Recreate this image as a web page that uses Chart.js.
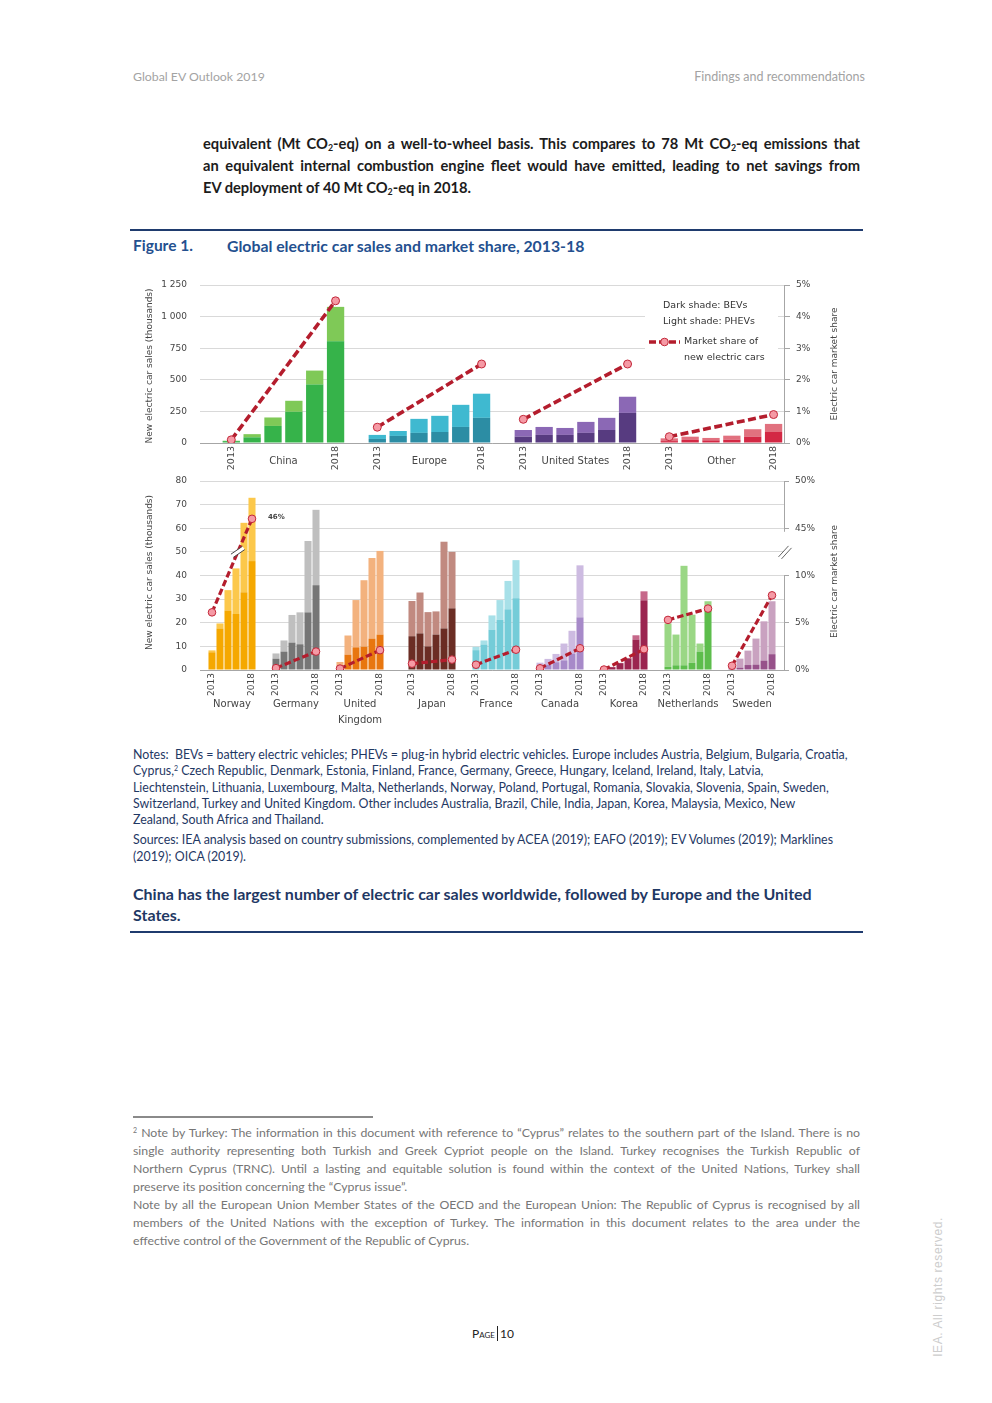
<!DOCTYPE html>
<html><head><meta charset="utf-8">
<script src="https://cdn.jsdelivr.net/npm/chart.js@4.4.1/dist/chart.umd.min.js"></script>
<style>
html,body{margin:0;padding:0;background:#fff;}
body{width:992px;height:1403px;position:relative;overflow:hidden;font-family:Lato,"Open Sans",sans-serif;}
.t{position:absolute;white-space:nowrap;}
.blk{position:absolute;}
.j{text-align:justify;text-align-last:justify;}
.nw{white-space:nowrap;}
.rule{position:absolute;background:#1f3b6e;}
sub{font-size:0.6em;vertical-align:baseline;position:relative;top:0.25em;line-height:0;}
.sup{font-size:7px;position:relative;top:-4px;line-height:0;}
</style></head>
<body>
<div class="t" style="left:133px;top:69px;font-size:12.3px;color:#a3a3a3;">Global EV Outlook 2019</div>
<div class="t" style="right:127px;top:69px;font-size:12.5px;color:#a3a3a3;">Findings and recommendations</div>

<div class="blk" style="left:203px;top:132px;width:657px;font-size:14.7px;line-height:22px;font-weight:700;color:#1c1c1c;">
<div class="j">equivalent (Mt CO<sub>2</sub>-eq) on a well-to-wheel basis. This compares to 78 Mt CO<sub>2</sub>-eq emissions that</div>
<div class="j">an equivalent internal combustion engine fleet would have emitted, leading to net savings from</div>
<div class="nw">EV deployment of 40 Mt CO<sub>2</sub>-eq in 2018.</div>
</div>

<div class="rule" style="left:130px;top:229px;width:733px;height:2px;"></div>
<div class="t" style="left:133px;top:236px;font-size:15.5px;font-weight:700;color:#24508f;">Figure 1.</div>
<div class="t" style="left:227px;top:236px;font-size:15.8px;font-weight:700;color:#24508f;">Global electric car sales and market share, 2013-18</div>

<div class="blk" style="left:130px;top:275px;width:730px;height:200px;"><canvas id="cTop" width="730" height="200"></canvas></div>
<div class="blk" style="left:130px;top:470px;width:730px;height:262px;"><canvas id="cBot" width="730" height="262"></canvas></div>

<div class="blk" style="left:133px;top:747px;width:740px;font-size:12.4px;line-height:16.3px;color:#1f3864;">
<div class="nw">Notes:&nbsp; BEVs = battery electric vehicles; PHEVs = plug-in hybrid electric vehicles. Europe includes Austria, Belgium, Bulgaria, Croatia,</div>
<div class="nw">Cyprus,<span class="sup">2</span> Czech Republic, Denmark, Estonia, Finland, France, Germany, Greece, Hungary, Iceland, Ireland, Italy, Latvia,</div>
<div class="nw">Liechtenstein, Lithuania, Luxembourg, Malta, Netherlands, Norway, Poland, Portugal, Romania, Slovakia, Slovenia, Spain, Sweden,</div>
<div class="nw">Switzerland, Turkey and United Kingdom. Other includes Australia, Brazil, Chile, India, Japan, Korea, Malaysia, Mexico, New</div>
<div class="nw">Zealand, South Africa and Thailand.</div>
<div class="nw" style="margin-top:4px;">Sources: IEA analysis based on country submissions, complemented by ACEA (2019); EAFO (2019); EV Volumes (2019); Marklines</div>
<div class="nw">(2019); OICA (2019).</div>
</div>

<div class="blk" style="left:133px;top:883px;width:740px;font-size:16px;line-height:21px;font-weight:700;color:#1f3864;">
<div class="nw">China has the largest number of electric car sales worldwide, followed by Europe and the United</div>
<div class="nw">States.</div>
</div>
<div class="rule" style="left:130px;top:931px;width:733px;height:2px;"></div>

<div class="rule" style="left:133px;top:1116px;width:240px;height:1.5px;background:#8a8a8a;"></div>
<div class="blk" style="left:133px;top:1124px;width:727px;font-size:12.3px;line-height:18px;color:#767676;">
<div class="j"><span class="sup">2</span> Note by Turkey: The information in this document with reference to “Cyprus” relates to the southern part of the Island. There is no</div>
<div class="j">single authority representing both Turkish and Greek Cypriot people on the Island. Turkey recognises the Turkish Republic of</div>
<div class="j">Northern Cyprus (TRNC). Until a lasting and equitable solution is found within the context of the United Nations, Turkey shall</div>
<div class="nw">preserve its position concerning the “Cyprus issue”.</div>
<div class="j">Note by all the European Union Member States of the OECD and the European Union: The Republic of Cyprus is recognised by all</div>
<div class="j">members of the United Nations with the exception of Turkey. The information in this document relates to the area under the</div>
<div class="nw">effective control of the Government of the Republic of Cyprus.</div>
</div>

<div class="t" style="left:472px;top:1326px;font-size:12px;color:#222;"><span style="font-variant:small-caps;">Page</span><span style="border-left:1.5px solid #222;padding-left:2px;margin-left:2px;">10</span></div>
<div class="t" style="left:938px;top:1287px;transform:translate(-50%,-50%) rotate(-90deg);font-family:'Liberation Sans',Arial,sans-serif;font-size:12px;color:#cdcdcd;letter-spacing:0.6px;">IEA. All rights reserved.</div>

<script>
// ---------------- DATA ----------------
const years = ['2013','2014','2015','2016','2017','2018'];

// Top panel (thousands)
const topGroups = ['China','Europe','United States','Other'];
const chinaBEV  = [15, 45, 135, 247, 462, 804];
const chinaPHEV = [3, 25, 67, 87, 111, 273];
const europeBEV  = [32, 56, 80, 87, 127, 199];
const europePHEV = [32, 39, 111, 128, 175, 191];
const usBEV  = [50, 64, 64, 80, 103, 238];
const usPHEV = [53, 63, 55, 87, 96, 128];
const otherBEV  = [15, 24, 21, 26, 50, 87];
const otherPHEV = [22, 26, 19, 32, 59, 64];
// market share (%) 2013 and 2018
const chinaShare  = [0.1, 4.5];
const europeShare = [0.5, 2.5];
const usShare     = [0.75, 2.5];
const otherShare  = [0.2, 0.9];
const topLeftTicks = [0, 250, 500, 750, 1000, 1250];
const topRightTicks = ['0%','1%','2%','3%','4%','5%'];

// Bottom panel (thousands)
const botGroups = ['Norway','Germany','United|Kingdom','Japan','France','Canada','Korea','Netherlands','Sweden'];
const norwayBEV  = [7.5, 17.6, 25.2, 23.7, 32.9, 46.1];
const norwayPHEV = [0.8, 2.1, 8.6, 19.3, 29.4, 26.8];
const germanyBEV  = [4.8, 7.8, 11.6, 10.9, 24.4, 35.9];
const germanyPHEV = [2.2, 4.7, 11.7, 13.5, 30.2, 31.9];
const ukBEV  = [1.6, 6.5, 9.6, 9.9, 13.3, 15.0];
const ukPHEV = [1.8, 8.1, 20.0, 28.1, 34.1, 35.4];
const japanBEV  = [14.3, 15.5, 10.0, 15.0, 17.6, 26.1];
const japanPHEV = [14.9, 17.3, 14.5, 9.8, 36.7, 23.9];
const franceBEV  = [8.4, 10.8, 17.1, 21.3, 25.7, 30.4];
const francePHEV = [1.4, 1.7, 6.0, 8.3, 12.0, 16.1];
const canadaBEV  = [1.4, 2.3, 3.3, 4.1, 7.0, 22.3];
const canadaPHEV = [1.7, 2.4, 3.5, 7.1, 9.6, 22.0];
const koreaBEV  = [0.6, 1.2, 2.9, 4.9, 12.9, 29.5];
const koreaPHEV = [0.1, 0.1, 0.1, 0.2, 1.8, 3.8];
const netherlandsBEV  = [1.4, 2.0, 2.0, 3.1, 7.8, 25.6];
const netherlandsPHEV = [18.3, 13.0, 42.1, 20.3, 3.4, 3.5];
const swedenBEV  = [0.4, 1.0, 2.1, 2.3, 4.0, 6.7];
const swedenPHEV = [1.1, 3.8, 6.1, 11.0, 16.6, 22.4];
const norwayShare = [6.1, 46];
const germanyShare = [0.2, 1.95];
const ukShare = [0.15, 2.1];
const japanShare = [0.67, 1.1];
const franceShare = [0.56, 2.15];
const canadaShare = [0.18, 2.3];
const koreaShare = [0.05, 2.2];
const netherlandsShare = [5.3, 6.5];
const swedenShare = [0.45, 7.9];
const botLeftTicks = [0,10,20,30,40,50,60,70,80];
const botRightTickValues = [0, 5, 10, 45, 50];
const botRightTickLabels = ['0%','5%','10%','45%','50%'];

// ---------------- STYLE / LAYOUT ----------------
const topDark  = ['#36b34a','#2c8da4','#573b80','#d32844'];
const topLight = ['#7fc957','#3fb9d0','#8b68b5','#e1717f'];
const botDark  = ['#f5a800','#767676','#e8760f','#6b2d24','#74ccd8','#a78ac9','#9b2550','#5dbd4c','#97518a'];
const botLight = ['#fcc84b','#bfbfbf','#f3b27e','#c18a80','#a7e0e8','#cdbbe1','#c6688a','#9ad785','#c9a2c0'];
const lineColor = '#b41d2d', pointFill = '#f59aa5', pointEdge = '#c2283a';
const axisGrey = '#a6a6a6', gridGrey = '#d9d9d9', txt = '#454545';
const FONT = "'DejaVu Sans', Verdana, sans-serif";
Chart.defaults.font.family = FONT;
Chart.defaults.font.size = 9;
Chart.defaults.color = txt;

function buildSlots(nGroups, gapsBefore, trailing){
  const labels = [], starts = [];
  for(let g=0; g<nGroups; g++){
    for(let k=0;k<gapsBefore[g];k++) labels.push('');
    starts.push(labels.length);
    years.forEach((y,i)=>labels.push(i===0||i===5 ? y : ''));
  }
  for(let k=0;k<trailing;k++) labels.push('');
  return {labels, starts};
}

function buildDatasets(slots, bev, phev, share, dark, light, shareMap, lw, dash, pr){
  const n = slots.labels.length;
  const b = Array(n).fill(null), p = Array(n).fill(null);
  const bc = Array(n).fill('rgba(0,0,0,0)'), pc = Array(n).fill('rgba(0,0,0,0)');
  slots.starts.forEach((s,g)=>{
    for(let j=0;j<6;j++){ b[s+j]=bev[g][j]; p[s+j]=phev[g][j]; bc[s+j]=dark[g]; pc[s+j]=light[g]; }
  });
  const ds = [
    {type:'bar', data:b, backgroundColor:bc, yAxisID:'y', stack:'s', order:2},
    {type:'bar', data:p, backgroundColor:pc, yAxisID:'y', stack:'s', order:2}
  ];
  slots.starts.forEach((s,g)=>{
    const d = Array(n).fill(null);
    d[s] = shareMap(share[g][0]); d[s+5] = shareMap(share[g][1]);
    ds.push({type:'line', data:d, yAxisID:'y2', spanGaps:true, order:0,
      borderColor:lineColor, borderWidth:lw, borderDash:dash, borderCapStyle:'butt',
      pointRadius:pr, pointBackgroundColor:pointFill, pointBorderColor:pointEdge, pointBorderWidth:1, fill:false});
  });
  return ds;
}

function drawVText(ctx, text, x, y, font, color){
  ctx.save(); ctx.translate(x,y); ctx.rotate(-Math.PI/2);
  ctx.font = font; ctx.fillStyle = color; ctx.textAlign='center'; ctx.textBaseline='middle';
  ctx.fillText(text,0,0); ctx.restore();
}

function groupLabelPlugin(groups, slots, yPos, lineH){
  return {id:'groupLabels', afterDraw(chart){
    const ctx = chart.ctx, xs = chart.scales.x;
    ctx.save(); ctx.font = '10px '+FONT; ctx.fillStyle = txt; ctx.textAlign='center'; ctx.textBaseline='middle';
    groups.forEach((g,i)=>{
      const cx = (xs.getPixelForValue(slots.starts[i]) + xs.getPixelForValue(slots.starts[i]+5))/2;
      g.split('|').forEach((line,k)=>ctx.fillText(line, cx, yPos + k*lineH));
    });
    ctx.restore();
  }};
}

const thousands = v => String(v).replace(/\B(?=(\d{3})+(?!\d))/g,' ');
function fixV(w){ return function(s){ s.width = w; s.paddingTop = 0; s.paddingBottom = 0; }; }
function fixH(h){ return function(s){ s.height = h; s.paddingLeft = 0; s.paddingRight = 0; }; }

// ---------------- TOP CHART ----------------
const topSlots = buildSlots(4, [1,1,1,1], 0);
const topDatasets = buildDatasets(topSlots,
  [chinaBEV, europeBEV, usBEV, otherBEV],
  [chinaPHEV, europePHEV, usPHEV, otherPHEV],
  [chinaShare, europeShare, usShare, otherShare],
  topDark, topLight, v=>v, 3.6, [8,3.5], 4);

const topExtras = {id:'topExtras', afterDraw(chart){
  const ctx = chart.ctx, ca = chart.chartArea;
  const cy = (ca.top+ca.bottom)/2;
  drawVText(ctx, 'New electric car sales (thousands)', 20, cy+2, '9px '+FONT, txt);
  drawVText(ctx, 'Electric car market share', 705, cy, '9px '+FONT, txt);
  // legend box
  ctx.save();
  ctx.fillStyle = '#fff'; ctx.fillRect(515, 20, 133, 73);
  ctx.font = '9.5px '+FONT; ctx.fillStyle = '#333'; ctx.textBaseline='middle'; ctx.textAlign='left';
  ctx.fillText('Dark shade: BEVs', 533, 31);
  ctx.fillText('Light shade: PHEVs', 533, 47);
  ctx.fillText('Market share of', 554, 67);
  ctx.fillText('new electric cars', 554, 83);
  ctx.strokeStyle = lineColor; ctx.lineWidth = 3.6; ctx.setLineDash([7,3]);
  ctx.beginPath(); ctx.moveTo(519,67); ctx.lineTo(550,67); ctx.stroke();
  ctx.setLineDash([]);
  ctx.beginPath(); ctx.arc(534.5,67,3.8,0,Math.PI*2); ctx.fillStyle=pointFill; ctx.fill();
  ctx.lineWidth=1; ctx.strokeStyle=pointEdge; ctx.stroke();
  ctx.restore();
}};

new Chart(document.getElementById('cTop'), {
  data:{labels: topSlots.labels, datasets: topDatasets},
  options:{
    responsive:false, animation:false, events:[],
    layout:{padding:{top:10,left:0,right:0,bottom:0}},
    plugins:{legend:{display:false}, tooltip:{enabled:false}},
    datasets:{bar:{barPercentage:0.83, categoryPercentage:1}},
    scales:{
      x:{stacked:true, grid:{display:false, drawTicks:false}, border:{color:axisGrey,width:1},
         ticks:{autoSkip:false, minRotation:90, maxRotation:90, padding:3, font:{size:9.5}},
         afterFit: fixH(32)},
      y:{stacked:true, min:0, max:1250, afterBuildTicks(s){ s.ticks = topLeftTicks.map(v=>({value:v})); },
         ticks:{padding:13, callback:v=>thousands(v)}, grid:{color:gridGrey, drawTicks:false, lineWidth:1},
         border:{display:false}, afterFit: fixV(70)},
      y2:{position:'right', stacked:false, min:0, max:5,
         afterBuildTicks(s){ s.ticks = topRightTicks.map((t,i)=>({value:i})); },
         ticks:{padding:6, callback:(v)=>topRightTicks[v]},
         grid:{drawOnChartArea:false, tickLength:6, color:axisGrey},
         border:{color:axisGrey,width:1}, afterFit: fixV(76)}
    }
  },
  plugins:[topExtras, groupLabelPlugin(topGroups, topSlots, 186, 16)]
});

// ---------------- BOTTOM CHART ----------------
// broken right axis: 0-10% mapped to 0-40, 45-50% mapped to 60-80 on the left scale
const shareToAxis = s => s <= 10 ? s*4 : 60 + (s-45)*4;
const botSlots = buildSlots(9, [1,2,2,3,2,2,2,2,2], 1);
const botDatasets = buildDatasets(botSlots,
  [norwayBEV, germanyBEV, ukBEV, japanBEV, franceBEV, canadaBEV, koreaBEV, netherlandsBEV, swedenBEV],
  [norwayPHEV, germanyPHEV, ukPHEV, japanPHEV, francePHEV, canadaPHEV, koreaPHEV, netherlandsPHEV, swedenPHEV],
  [norwayShare, germanyShare, ukShare, japanShare, franceShare, canadaShare, koreaShare, netherlandsShare, swedenShare],
  botDark, botLight, shareToAxis, 3.2, [6.5,3], 3.8);

const botExtras = {id:'botExtras', afterDraw(chart){
  const ctx = chart.ctx, ca = chart.chartArea, y2 = chart.scales.y2;
  const cy = (ca.top+ca.bottom)/2;
  drawVText(ctx, 'New electric car sales (thousands)', 20, cy-3, '9px '+FONT, txt);
  drawVText(ctx, 'Electric car market share', 705, cy+6, '9px '+FONT, txt);
  // broken right axis line
  ctx.save();
  ctx.strokeStyle = axisGrey; ctx.lineWidth = 1;
  const xr = Math.round(ca.right)+0.5;
  ctx.beginPath();
  ctx.moveTo(xr, y2.getPixelForValue(0)); ctx.lineTo(xr, y2.getPixelForValue(40));
  ctx.moveTo(xr, y2.getPixelForValue(58.5)); ctx.lineTo(xr, y2.getPixelForValue(80));
  ctx.stroke();
  const by = y2.getPixelForValue(50);
  ctx.strokeStyle = '#555'; ctx.lineWidth = 0.9;
  ctx.beginPath();
  ctx.moveTo(xr-6, by+5); ctx.lineTo(xr+4, by-6);
  ctx.moveTo(xr-3, by+7); ctx.lineTo(xr+7, by-4);
  ctx.stroke();
  // Norway line break + label
  const meta = chart.getDatasetMeta(2);
  const p1 = meta.data[botSlots.starts[0]], p2 = meta.data[botSlots.starts[0]+5];
  const t = (by - p1.y)/(p2.y - p1.y);
  const bx = p1.x + t*(p2.x - p1.x);
  ctx.translate(bx, by);
  ctx.rotate(-0.6);
  ctx.fillStyle = '#fff'; ctx.fillRect(-7, -2, 14, 4);
  ctx.strokeStyle = '#444'; ctx.lineWidth = 0.9;
  ctx.beginPath(); ctx.moveTo(-7,-2); ctx.lineTo(7,-2); ctx.moveTo(-7,2); ctx.lineTo(7,2); ctx.stroke();
  ctx.restore();
  ctx.save();
  ctx.font = 'bold 7px '+FONT; ctx.fillStyle='#444'; ctx.textAlign='left'; ctx.textBaseline='middle';
  ctx.fillText(norwayShare[1]+'%', p2.x+16, p2.y-2);
  ctx.restore();
}};

new Chart(document.getElementById('cBot'), {
  data:{labels: botSlots.labels, datasets: botDatasets},
  options:{
    responsive:false, animation:false, events:[],
    layout:{padding:{top:11,left:0,right:0,bottom:0}},
    plugins:{legend:{display:false}, tooltip:{enabled:false}},
    datasets:{bar:{barPercentage:0.88, categoryPercentage:1}},
    scales:{
      x:{stacked:true, grid:{display:false, drawTicks:false}, border:{color:axisGrey,width:1},
         ticks:{autoSkip:false, minRotation:90, maxRotation:90, padding:3, font:{size:9}},
         afterFit: fixH(62)},
      y:{stacked:true, min:0, max:80, afterBuildTicks(s){ s.ticks = botLeftTicks.map(v=>({value:v})); },
         ticks:{padding:13}, grid:{color:gridGrey, drawTicks:false},
         border:{display:false}, afterFit: fixV(70)},
      y2:{position:'right', stacked:false, min:0, max:80,
         afterBuildTicks(s){ s.ticks = botRightTickValues.map(v=>({value:shareToAxis(v)})); },
         ticks:{padding:6, callback:(v,i)=>botRightTickLabels[i]},
         grid:{drawOnChartArea:false, tickLength:5, color:axisGrey},
         border:{display:false}, afterFit: fixV(76)}
    }
  },
  plugins:[botExtras, groupLabelPlugin(botGroups, botSlots, 234, 16)]
});
</script>
</body></html>
